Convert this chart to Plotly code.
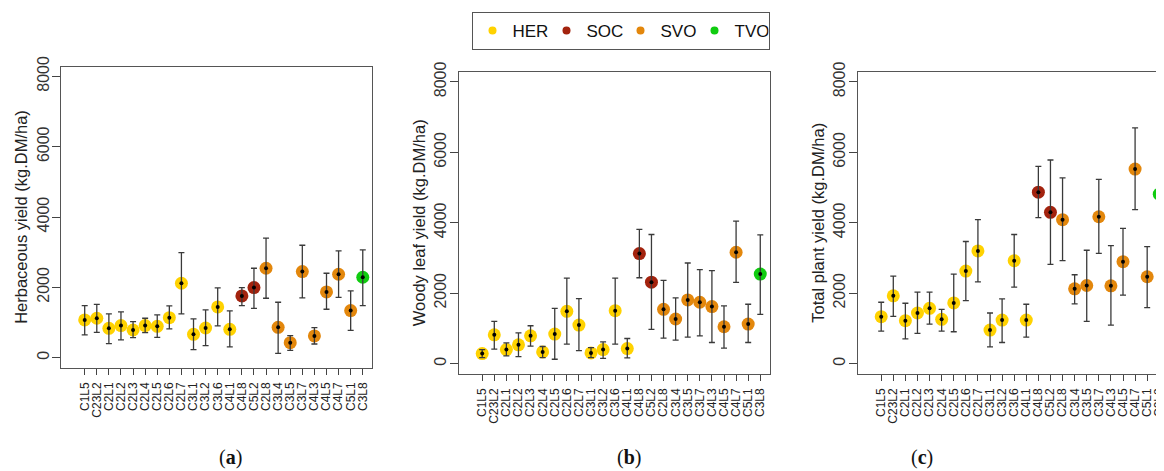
import plotly.graph_objects as go

# ---------------- data ----------------
categories = ["C1L5", "C23L2", "C2L1", "C2L2", "C2L3", "C2L4", "C2L5", "C2L6", "C2L7",
              "C3L1", "C3L2", "C3L6", "C4L1", "C4L8", "C5L2", "C2L8", "C3L4", "C3L5",
              "C3L7", "C4L3", "C4L5", "C4L7", "C5L1", "C3L8"]
groups = ["HER"] * 13 + ["SOC"] * 2 + ["SVO"] * 8 + ["TVO"]

herb_mean = [1072, 1120, 835, 911, 787, 911, 892, 1138, 2116, 664, 844, 1442, 806,
             1755, 1992, 2543, 863, 427, 2448, 617, 1869, 2372, 1338, 2287]
herb_hi = [1480, 1518, 1243, 1300, 1025, 1120, 1214, 1471, 2989, 1100, 1357, 1983, 1328,
           1992, 2543, 3397, 1575, 626, 3197, 854, 2400, 3036, 1898, 3065]
herb_lo = [645, 721, 398, 503, 569, 712, 579, 816, 1243, 228, 342, 901, 304,
           1480, 1404, 1689, 123, 209, 1698, 389, 1376, 1717, 778, 1480]

woody_mean = [286, 819, 400, 533, 790, 333, 838, 1486, 1095, 305, 400, 1505, 429,
              3124, 2314, 1543, 1267, 1810, 1743, 1619, 1048, 3162, 1124, 2543]
woody_hi = [400, 1200, 590, 876, 1076, 486, 1571, 2429, 1848, 457, 619, 2429, 714,
            3810, 3667, 2362, 1867, 2857, 2667, 2638, 1638, 4048, 1686, 3657]
woody_lo = [171, 410, 219, 200, 495, 171, 124, 552, 371, 171, 152, 552, 162,
            2438, 971, 724, 667, 752, 790, 600, 438, 2305, 600, 1400]

total_mean = [1333, 1924, 1219, 1438, 1571, 1257, 1724, 2629, 3200, 952, 1238, 2924, 1238,
              4867, 4295, 4086, 2124, 2219, 4171, 2210, 2895, 5524, 2467, 4810]
total_hi = [1743, 2486, 1714, 2029, 2029, 1543, 2543, 3467, 4086, 1438, 1838, 3667, 1686,
            5600, 5781, 5276, 2524, 3219, 5229, 3352, 3838, 6695, 3324, 6333]
total_lo = [924, 1343, 705, 857, 1124, 924, 905, 1790, 2324, 476, 600, 2171, 752,
            4143, 2819, 2924, 1695, 1200, 3133, 1095, 1943, 4371, 1590, 3267]

group_names = ["HER", "SOC", "SVO", "TVO"]
group_colors = ["#FFD200", "#A3230E", "#E3870C", "#10CC10"]

y_titles = ["Herbaceous yield (kg.DM/ha)", "Woody leaf yield (kg.DM/ha)",
            "Total plant yield (kg.DM/ha)"]
y_ticks = [0, 2000, 4000, 6000, 8000]
captions = ["a", "b", "c"]

# ---------------- figure ----------------
OFF = 8                      # default page margin around the plot div
WIN_W, WIN_H = 1164, 471
W, H = WIN_W - OFF, WIN_H - OFF
FONT = "Liberation Sans, Arial, sans-serif"


def px_x(sx):
    return (sx - OFF) / W


def px_y(sy):
    return (H - (sy - OFF)) / H


color_of = dict(zip(group_names, group_colors))
point_colors = [color_of[g] for g in groups]

panels = [
    (herb_mean, herb_hi, herb_lo),
    (woody_mean, woody_hi, woody_lo),
    (total_mean, total_hi, total_lo),
]

# screen geometry of the three plot boxes: (left, right, top, bottom)
boxes = [(61, 372, 66.5, 367.5), (458.5, 769.5, 72, 373.5), (857.5, WIN_W, 72, 373.5)]
caption_x = [230, 629, 922]
px_per_cat = 12.09

fig = go.Figure()

for i, (mean, hi, lo) in enumerate(panels):
    ax = "" if i == 0 else str(i + 1)
    xref, yref = "x" + ax, "y" + ax
    err_plus = [h - m for h, m in zip(hi, mean)]
    err_minus = [m - l for m, l in zip(mean, lo)]
    fig.add_trace(go.Scatter(
        x=categories, y=mean, mode="markers", xaxis=xref, yaxis=yref,
        marker=dict(size=13, color=point_colors, line=dict(width=0)),
        showlegend=False, hoverinfo="skip", cliponaxis=False))
    fig.add_trace(go.Scatter(
        x=categories, y=mean, mode="markers", xaxis=xref, yaxis=yref,
        marker=dict(size=4, color="black", line=dict(width=0)),
        error_y=dict(type="data", symmetric=False, array=err_plus, arrayminus=err_minus,
                     color="#3a3a3a", thickness=1.3, width=3),
        showlegend=False, cliponaxis=False))

    l, r, t, b = boxes[i]
    xdom = [px_x(l), min(1.0, px_x(r))]
    ydom = [px_y(b), px_y(t)]
    x_range = [-1.96, -1.96 + (r - l) / px_per_cat]
    fig.layout["xaxis" + ax] = dict(
        domain=xdom, anchor=yref, type="category", categoryorder="array",
        categoryarray=categories, range=x_range, tickangle=-90,
        tickmode="array", tickvals=categories, ticktext=categories,
        tickfont=dict(family=FONT, size=12, color="#222"),
        ticks="outside", ticklen=6, tickcolor="#444", tickwidth=1,
        showline=True, mirror=True, linecolor="#555", linewidth=1,
        showgrid=False, zeroline=False, ticklabelstandoff=3, automargin=False)
    fig.layout["yaxis" + ax] = dict(
        domain=ydom, anchor=xref, range=[-280, 8280], tickvals=y_ticks,
        tickangle=-90, tickfont=dict(family=FONT, size=16, color="#333"),
        ticks="outside", ticklen=8, tickcolor="#444", tickwidth=1,
        ticklabelstandoff=-3,
        showline=True, mirror=(i < 2), linecolor="#555", linewidth=1,
        showgrid=False, zeroline=False, automargin=False,
        title=dict(text=y_titles[i], font=dict(family=FONT, size=16.5, color="#222"),
                   standoff=2))
    fig.add_annotation(
        x=px_x(caption_x[i]), y=px_y(457), xref="paper", yref="paper",
        xanchor="center", yanchor="middle",
        text="(<b>" + captions[i] + "</b>)", showarrow=False,
        font=dict(family="Liberation Serif, DejaVu Serif, serif", size=20, color="#111"))

# legend-only entries
for name, col in zip(group_names, group_colors):
    fig.add_trace(go.Scatter(x=[None], y=[None], mode="markers", name=name,
                             marker=dict(size=8, color=col), xaxis="x2", yaxis="y2"))

fig.update_layout(
    width=W, height=H, margin=dict(l=0, r=0, t=0, b=0, autoexpand=False),
    paper_bgcolor="white", plot_bgcolor="white",
    legend=dict(orientation="h", x=px_x(620.5), xanchor="center", y=px_y(12),
                yanchor="top", bordercolor="#555", borderwidth=1,
                font=dict(family=FONT, size=17, color="#111"),
                entrywidth=29, entrywidthmode="pixels", itemwidth=30,
                tracegroupgap=0),
    font=dict(family=FONT),
)

fig.write_html("out.html")
